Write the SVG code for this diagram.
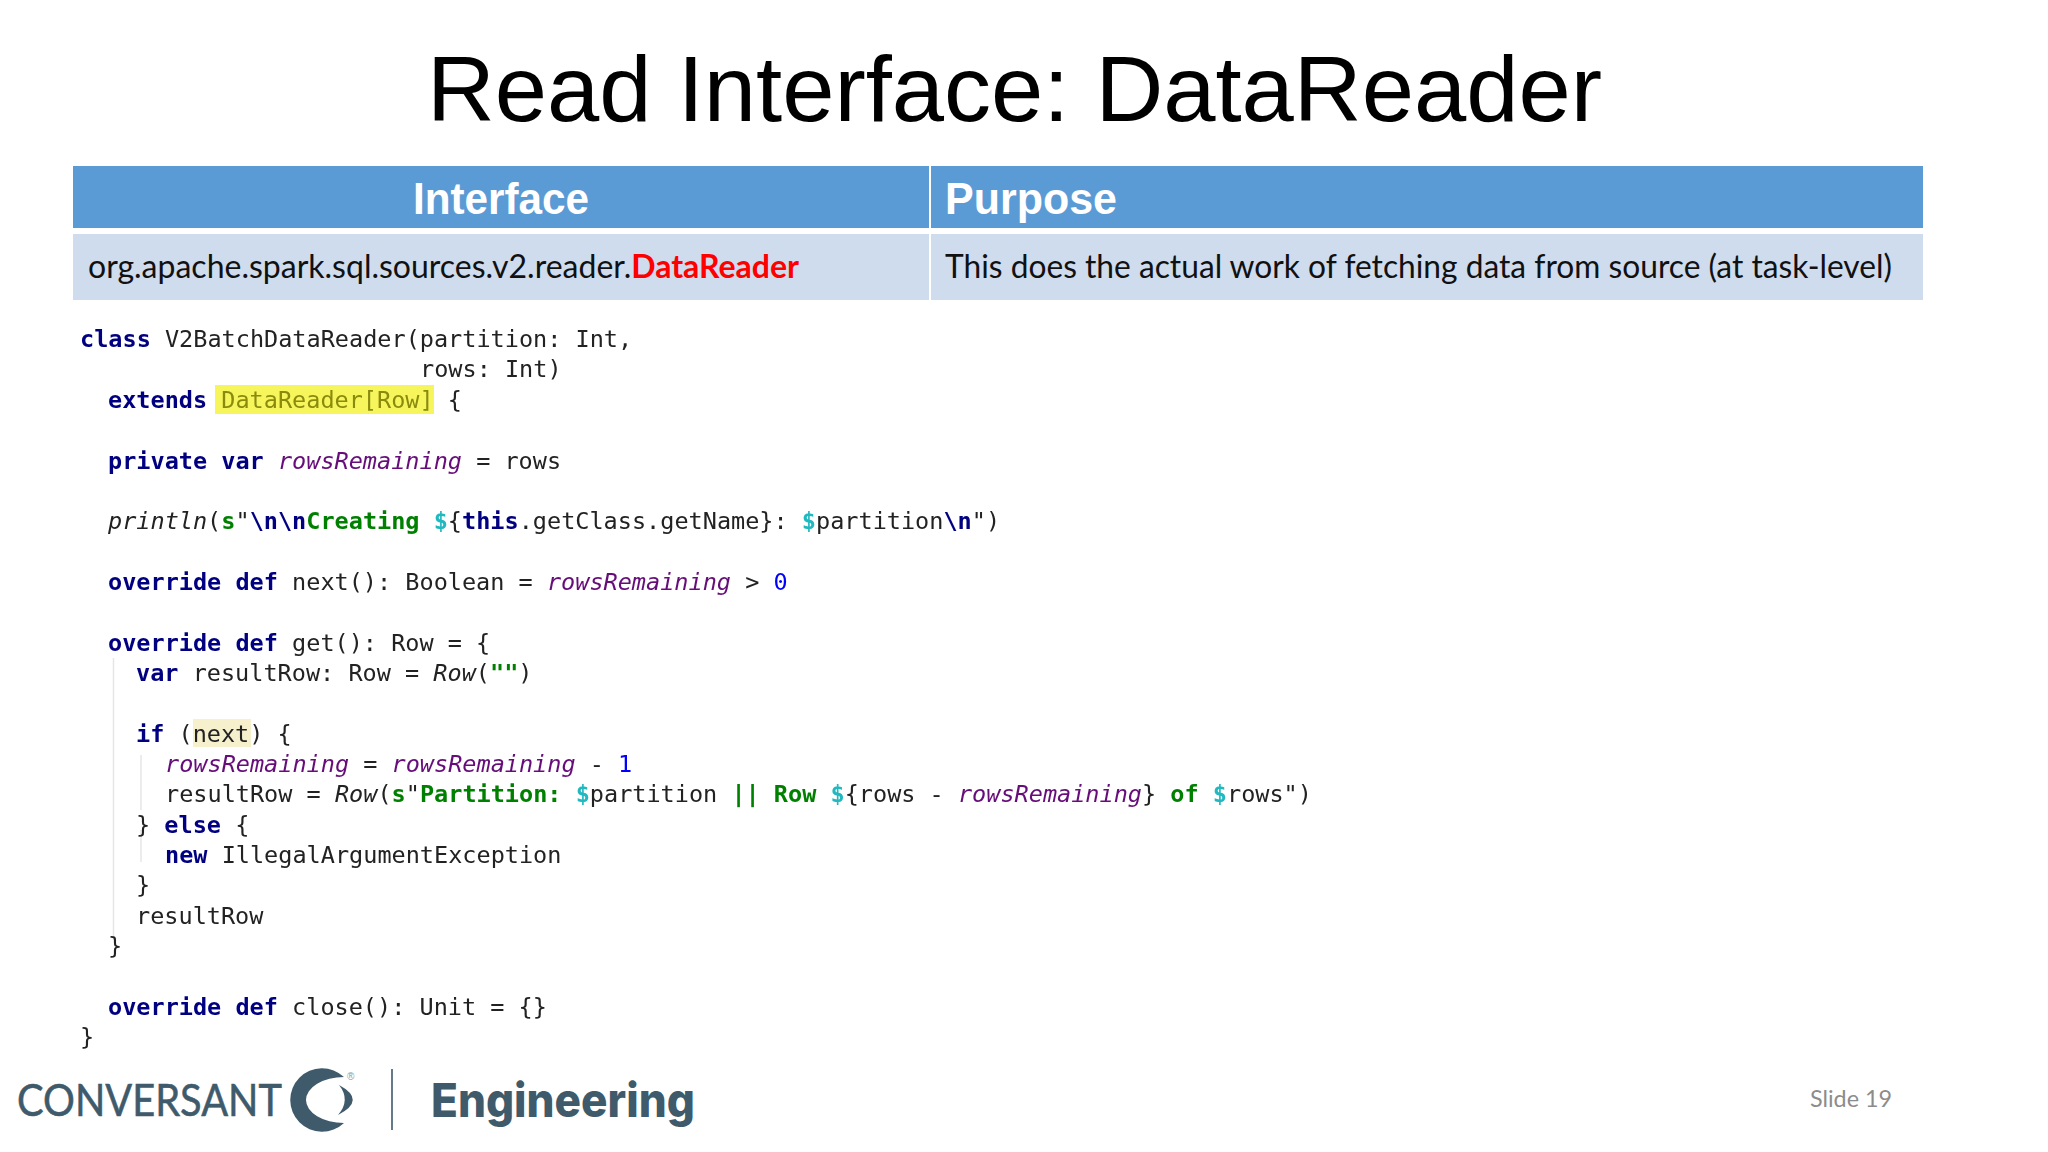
<svg xmlns="http://www.w3.org/2000/svg" width="2048" height="1152" viewBox="0 0 2048 1152">
<defs>
<style>
text{white-space:pre}
.code{font-family:"DejaVu Sans Mono","Liberation Mono",monospace;font-size:23.52px;fill:#222}
.k{fill:#000080;font-weight:700}
.s{fill:#008000;font-weight:700}
.d{fill:#20b8c0;font-weight:700}
.v{fill:#660e7a;font-style:italic}
.i{font-style:italic}
.n{fill:#0000ff}
.y{fill:#8a8a10}
.hd{font-family:"Liberation Sans",Arial,sans-serif;font-weight:700;font-size:44px;fill:#fff}
.bd{font-family:Lato,"Open Sans",sans-serif;font-size:32px;fill:#111}
.guide{stroke:#e6e6e6;stroke-width:1.5;fill:none}
.logo{fill:#3f5a6b}
</style>
<filter id="soft" x="0" y="0" width="100%" height="100%"><feGaussianBlur stdDeviation="0.6"/></filter>
</defs>
<rect width="2048" height="1152" fill="#ffffff"/>
<text id="title" x="1014.500" y="121" text-anchor="middle" font-family="'Liberation Sans',Arial,sans-serif" font-size="92" fill="#000" textLength="1175" lengthAdjust="spacingAndGlyphs">Read Interface: DataReader</text>
<g id="table">
<rect x="73" y="166" width="856" height="62" fill="#5b9bd5"/>
<rect x="931" y="166" width="992" height="62" fill="#5b9bd5"/>
<rect x="73" y="234" width="856" height="66" fill="#cfdcee"/>
<rect x="931" y="234" width="992" height="66" fill="#cfdcee"/>
<text class="hd" x="501" y="214" text-anchor="middle" textLength="176" lengthAdjust="spacingAndGlyphs">Interface</text>
<text class="hd" x="945" y="214" textLength="172" lengthAdjust="spacingAndGlyphs">Purpose</text>
<text class="bd" x="88" y="278" textLength="711" lengthAdjust="spacingAndGlyphs">org.apache.spark.sql.sources.v2.reader.<tspan fill="#ff0000" font-weight="700">DataReader</tspan></text>
<text class="bd" x="945" y="278" textLength="947" lengthAdjust="spacingAndGlyphs">This does the actual work of fetching data from source (at task-level)</text>
</g>
<g id="code" filter="url(#soft)">
<rect x="215" y="385" width="219" height="29" fill="#f6f65c"/>
<rect x="193" y="719" width="58" height="28" fill="#f6f0cc"/>
<path class="guide" d="M113.500 658V940M141 755V810M141 830V862"/>
<text class="code" x="80" y="346.500"><tspan class="k">class</tspan> V2BatchDataReader(partition: Int,</text>
<text class="code" x="420" y="376.500">rows: Int)</text>
<text class="code" x="108" y="407.500"><tspan class="k">extends</tspan> <tspan class="y">DataReader[Row]</tspan> {</text>
<text class="code" x="108" y="468.500"><tspan class="k">private var</tspan> <tspan class="v">rowsRemaining</tspan> = rows</text>
<text class="code" x="108" y="528.500"><tspan class="i">println</tspan>(<tspan class="s">s</tspan>"<tspan class="k">\n\n</tspan><tspan class="s">Creating </tspan><tspan class="d">$</tspan>{<tspan class="k">this</tspan>.getClass.getName}: <tspan class="d">$</tspan>partition<tspan class="k">\n</tspan>")</text>
<text class="code" x="108" y="589.500"><tspan class="k">override def</tspan> next(): Boolean = <tspan class="v">rowsRemaining</tspan> &gt; <tspan class="n">0</tspan></text>
<text class="code" x="108" y="650.500"><tspan class="k">override def</tspan> get(): Row = {</text>
<text class="code" x="136" y="680.500"><tspan class="k">var</tspan> resultRow: Row = <tspan class="i">Row</tspan>(<tspan class="s">""</tspan>)</text>
<text class="code" x="136" y="741.500"><tspan class="k">if</tspan> (next) {</text>
<text class="code" x="165" y="771.500"><tspan class="v">rowsRemaining</tspan> = <tspan class="v">rowsRemaining</tspan> - <tspan class="n">1</tspan></text>
<text class="code" x="165" y="802">resultRow = <tspan class="i">Row</tspan>(<tspan class="s">s</tspan>"<tspan class="s">Partition: </tspan><tspan class="d">$</tspan>partition <tspan class="s">|| Row </tspan><tspan class="d">$</tspan>{rows - <tspan class="v">rowsRemaining</tspan>} <tspan class="s">of </tspan><tspan class="d">$</tspan>rows")</text>
<text class="code" x="136" y="832.500">} <tspan class="k">else</tspan> {</text>
<text class="code" x="165" y="862.500"><tspan class="k">new</tspan> IllegalArgumentException</text>
<text class="code" x="136" y="892.500">}</text>
<text class="code" x="136" y="923.500">resultRow</text>
<text class="code" x="108" y="953.500">}</text>
<text class="code" x="108" y="1014.500"><tspan class="k">override def</tspan> close(): Unit = {}</text>
<text class="code" x="80" y="1044.500">}</text>
</g>
<g id="logo">
<text class="logo" x="17" y="1116" font-family="Lato,'Open Sans',sans-serif" font-size="45" stroke="#3f5a6b" stroke-width="0.6" textLength="265" lengthAdjust="spacingAndGlyphs">CONVERSANT</text>
<path class="logo" d="M344 1077A31.800 31.800 0 1 0 344 1123A38 23 0 0 1 344 1077Z"/>
<path class="logo" d="M339 1085Q367 1100 338 1115Q351 1100 339 1085Z"/>
<text x="347" y="1080" font-family="'Liberation Sans',sans-serif" font-size="10" fill="#8a9aa5">®</text>
<rect class="logo" x="391.200" y="1069" width="1.600" height="61"/>
<text class="logo" x="431" y="1117" font-family="Inter,Lato,sans-serif" font-weight="800" font-size="47" textLength="264" lengthAdjust="spacingAndGlyphs">Engineering</text>
</g>
<text id="slide-number" x="1810" y="1107" font-family="Lato,'Open Sans',sans-serif" font-size="24" fill="#8c8c8c" textLength="82" lengthAdjust="spacingAndGlyphs">Slide 19</text>
</svg>
